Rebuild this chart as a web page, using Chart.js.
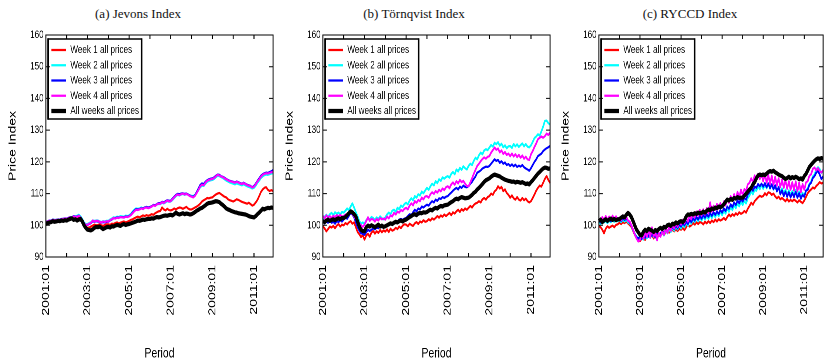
<!DOCTYPE html>
<html>
<head>
<meta charset="utf-8">
<script src="https://cdn.jsdelivr.net/npm/chart.js@4.4.1/dist/chart.umd.min.js"></script>
<style>
html,body{margin:0;padding:0;background:#fff;}
body{width:824px;height:362px;overflow:hidden;position:relative;}
.ttl{position:absolute;top:6px;width:220px;text-align:center;font-family:'Liberation Serif','Times New Roman',serif;font-size:13px;line-height:15px;color:#111;}
.panel{position:absolute;top:0;transform:scaleX(0.74);transform-origin:0 0;}
</style>
</head>
<body>
<div class="ttl" id="t0" style="left:28px"></div>
<div class="ttl" id="t1" style="left:304px"></div>
<div class="ttl" id="t2" style="left:580px"></div>
<div class="panel" style="left:0px"><canvas id="c0"></canvas></div>
<div class="panel" style="left:277px"><canvas id="c1"></canvas></div>
<div class="panel" style="left:553px"><canvas id="c2"></canvas></div>
<script>
// ---------- DATA ----------
const panelTitles = ['(a) Jevons Index', '(b) Törnqvist Index', '(c) RYCCD Index'];
const seriesNames = ['Week 1 all prices', 'Week 2 all prices', 'Week 3 all prices', 'Week 4 all prices', 'All weeks all prices'];
const years = [2001, 2002, 2003, 2004, 2005, 2006, 2007, 2008, 2009, 2010, 2011];
const monthCodes = ['01','02','03','04','05','06','07','08','09','10','11','12'];
const periods = [];
years.forEach(y => monthCodes.forEach(m => periods.push(y + ':' + m)));
const yTickValues = [90, 100, 110, 120, 130, 140, 150, 160];

// (a) Jevons
const jevW1 = [
100.2,100.4,100.7,100.9,101.2,101.0,101.3,101.5,101.4,101.7,101.6,101.8,
101.8,102.0,102.3,102.1,102.4,102.3,102.3,102.6,102.2,101.5,100.4,99.6,
99.2,99.3,99.6,99.9,100.2,100.0,100.1,100.3,100.0,99.8,100.1,100.3,
100.3,100.1,100.5,100.4,100.7,100.9,100.6,100.8,101.0,101.2,100.9,101.1,
101.4,101.7,101.9,102.2,102.5,102.7,102.5,102.8,103.1,102.9,103.2,103.0,
103.2,103.5,103.3,103.8,104.1,104.4,104.5,105.6,105.0,104.7,105.2,104.8,
104.7,104.9,105.3,105.0,105.4,105.6,105.5,105.2,105.5,105.8,105.3,105.0,
105.0,105.3,105.6,105.9,106.3,106.8,107.5,107.9,108.2,108.6,108.5,108.7,
108.8,109.3,109.7,110.0,110.2,109.8,109.4,109.0,108.8,108.2,107.9,107.7,
107.5,107.8,108.2,108.0,107.7,107.4,107.2,107.0,106.8,107.1,106.7,106.2,
106.5,107.2,108.0,109.2,110.5,111.3,111.8,112.0,111.2,110.8,111.1,110.8];
const jevW2 = [
101.0,101.3,101.4,101.6,101.7,101.7,101.6,101.9,101.8,101.9,102.1,102.1,
102.1,102.3,102.6,102.5,102.9,102.8,103.0,103.3,102.8,101.9,100.9,100.3,
100.4,100.7,101.0,101.5,101.4,101.5,101.5,101.2,101.0,101.3,101.2,101.4,
101.4,101.8,102.1,102.5,102.4,102.7,102.6,102.9,102.8,102.7,103.0,102.9,
103.1,103.6,104.3,104.9,105.3,105.2,105.3,105.6,105.3,105.7,105.7,105.5,
105.7,105.9,106.4,106.2,106.6,106.7,106.7,107.1,106.9,107.2,107.6,107.4,
107.5,108.0,108.6,109.2,109.6,109.4,109.7,109.9,109.6,109.8,109.7,109.4,
109.3,109.2,109.6,110.3,111.1,112.0,112.5,112.4,113.1,113.7,114.0,114.2,
114.3,114.6,115.1,115.6,115.5,115.2,114.9,114.5,114.1,113.8,113.5,113.3,
113.1,112.9,113.2,113.0,112.8,112.6,112.9,112.6,112.3,112.1,111.9,111.6,
111.8,112.5,113.4,114.1,114.9,115.4,115.8,116.0,115.9,116.1,116.3,116.4];
const jevW3 = [
101.1,101.2,101.5,101.4,101.8,101.6,101.7,101.8,101.8,102.0,102.0,102.2,
102.1,102.3,102.6,102.4,102.9,102.7,102.8,103.0,102.5,101.7,100.7,100.0,
100.1,100.4,100.7,101.3,101.1,101.3,101.2,101.0,100.8,101.0,100.9,101.1,
101.1,101.5,101.8,102.2,102.2,102.5,102.4,102.6,102.6,102.5,102.8,102.7,
102.9,103.3,104.0,104.6,105.1,105.0,105.1,105.4,105.3,105.6,105.8,105.6,
105.8,106.0,106.4,106.3,106.7,107.0,107.0,107.4,107.2,107.6,107.9,107.7,
107.8,108.4,109.0,109.6,109.9,109.8,110.0,110.1,109.9,110.0,109.7,109.4,
109.1,109.0,109.5,110.5,111.6,112.7,113.2,113.0,113.7,114.2,114.5,114.7,
114.8,115.1,115.6,116.0,115.9,115.5,115.3,115.0,114.6,114.3,114.0,113.9,
113.7,113.5,113.8,113.6,113.3,113.1,113.4,113.1,112.8,112.6,112.4,112.0,
112.4,113.1,114.0,114.8,115.6,116.1,116.4,116.6,116.5,116.8,117.0,117.4];
const jevW4 = [
101.0,101.2,101.4,101.5,101.7,101.6,101.6,101.8,101.7,101.9,102.0,102.1,
102.0,102.3,102.5,102.4,102.8,102.6,102.7,103.0,102.4,101.6,100.6,100.1,
100.2,100.5,100.8,101.5,101.2,101.4,101.4,101.1,100.9,101.2,101.0,101.3,
101.2,101.6,101.9,102.3,102.1,102.4,102.3,102.6,102.5,102.4,102.7,102.6,
102.8,103.2,103.8,104.4,104.9,104.8,105.0,105.3,105.1,105.5,105.6,105.4,
105.6,105.9,106.3,106.1,106.6,106.8,106.8,107.3,107.0,107.4,107.8,107.5,
107.6,108.2,108.8,109.4,109.7,109.5,109.8,110.0,109.7,109.9,109.6,109.2,
109.0,108.8,109.3,110.2,111.2,112.3,112.8,112.6,113.4,114.0,114.3,114.5,
114.6,114.9,115.4,115.9,115.7,115.4,115.2,114.8,114.5,114.2,113.9,113.8,
113.6,113.4,113.7,113.5,113.2,113.0,113.3,113.0,112.7,112.5,112.3,111.9,
112.2,112.9,113.8,114.5,115.3,115.9,116.2,116.4,116.3,116.5,116.7,116.8];
const jevAll = [
100.5,100.7,100.9,101.0,101.3,101.1,101.2,101.4,101.3,101.5,101.4,101.6,
101.5,101.8,102.0,102.2,101.7,101.9,101.5,101.8,102.0,101.2,100.0,99.2,
98.6,98.5,98.4,98.7,99.2,99.5,99.4,99.6,99.2,98.8,99.1,99.4,
99.5,99.3,99.7,99.6,99.9,100.1,100.0,99.8,100.2,100.4,100.1,100.3,
100.4,100.6,100.8,101.0,101.2,101.5,101.4,101.6,101.8,101.7,101.9,102.0,
102.0,102.2,102.1,102.4,102.6,102.5,102.6,102.8,103.0,103.1,103.0,103.2,
103.3,103.1,103.5,104.0,103.6,103.4,103.6,103.8,103.5,103.7,103.6,103.4,
103.5,103.8,104.2,104.6,104.9,105.3,105.5,105.9,106.3,106.8,107.0,107.1,
107.2,107.4,107.6,107.5,107.3,106.8,106.4,105.9,105.3,105.0,104.8,104.5,
104.3,104.1,104.0,103.8,103.7,103.6,103.5,103.4,103.2,102.9,102.7,102.6,
102.5,102.9,103.5,104.0,104.6,105.2,105.0,105.3,105.5,105.4,105.6,105.5];

// (b) Törnqvist
const torW1 = [
99.7,99.0,98.1,98.8,99.6,99.3,99.8,99.1,99.9,100.4,99.6,100.2,
100.0,100.7,100.3,100.9,101.3,100.5,100.9,99.4,97.9,97.2,96.3,96.9,
95.5,96.8,97.3,96.4,97.7,98.2,97.4,98.1,97.6,98.5,97.8,98.4,
98.0,98.7,97.9,98.9,98.3,98.6,99.2,98.8,99.6,99.1,99.9,100.3,
100.2,99.7,100.5,100.1,99.8,100.6,101.0,100.4,101.2,100.9,101.6,101.1,
101.3,101.9,101.5,102.2,101.8,102.3,102.9,102.4,103.1,102.7,103.4,102.9,
103.4,103.9,103.2,104.1,103.7,104.4,104.9,104.2,105.1,104.6,105.3,104.9,
105.5,106.1,105.6,106.4,106.9,107.1,107.6,107.2,108.2,108.6,108.1,108.9,
109.2,110.0,109.6,110.7,111.2,112.3,111.6,112.1,110.8,111.3,110.2,109.6,
108.7,109.4,108.5,108.1,108.9,108.1,107.8,108.6,107.9,108.4,107.6,107.2,
107.6,108.6,109.7,110.9,111.8,112.5,112.2,113.4,114.6,115.5,114.3,113.4];
const torW2 = [
101.8,102.7,103.3,102.6,103.5,103.9,103.2,104.1,103.6,104.0,103.4,104.2,
104.0,104.6,105.3,104.8,105.9,106.9,105.6,104.1,102.8,101.3,100.5,100.9,
100.5,101.6,102.3,101.8,102.6,102.3,101.7,102.5,102.0,102.8,102.2,101.9,
102.5,103.4,104.0,103.5,104.6,104.9,104.3,105.5,105.1,106.2,105.8,106.7,
107.1,106.6,107.8,108.5,107.9,109.2,108.7,109.8,109.4,110.6,110.1,111.0,
111.8,111.2,112.3,113.1,112.6,113.9,113.3,114.5,114.0,115.1,114.7,115.2,
115.5,115.0,116.2,116.8,116.1,117.6,117.0,118.1,117.5,118.6,118.0,117.6,
118.7,119.4,119.0,120.3,121.3,120.8,122.1,122.9,122.4,123.6,124.0,123.7,
124.5,125.3,124.8,126.0,125.6,126.2,125.1,125.7,124.6,125.2,124.3,124.9,
125.0,124.4,125.6,124.9,125.5,124.7,125.3,125.8,124.9,125.6,124.8,124.6,
125.2,126.3,127.5,128.0,128.7,128.3,129.6,131.1,132.9,133.0,132.2,131.8];
const torW3 = [
101.3,100.6,101.2,100.8,101.5,100.8,101.1,100.5,101.3,101.0,101.6,101.2,
101.8,102.4,102.1,103.0,103.9,103.4,102.5,101.0,99.4,98.3,97.5,97.3,
97.0,97.8,98.6,98.2,98.6,99.0,98.7,99.3,99.1,99.7,99.4,99.5,
99.7,100.3,100.0,100.8,100.5,101.0,101.4,101.1,101.8,102.0,101.7,102.1,
102.3,102.9,103.5,103.2,104.1,104.9,104.4,105.3,105.0,105.9,105.6,106.1,
106.5,106.2,107.0,107.6,107.2,108.1,107.7,108.5,108.3,108.9,108.6,109.0,
109.2,109.8,110.3,110.9,111.4,111.8,111.3,112.2,111.8,112.5,112.1,112.0,
112.3,113.1,113.7,114.6,115.4,116.6,116.9,117.3,117.9,118.2,118.5,118.4,
118.7,119.4,120.1,120.8,120.3,120.6,119.7,120.2,119.4,119.8,119.0,119.3,
118.7,119.2,118.6,119.1,118.4,118.8,118.5,119.0,118.3,117.9,117.6,117.2,
118.0,119.0,120.0,120.8,121.8,122.2,122.6,123.4,123.9,124.3,124.6,125.0];
const torW4 = [
102.9,102.2,103.1,102.4,102.9,102.3,103.0,102.6,103.2,102.8,103.3,102.7,
102.9,103.4,103.0,103.8,104.2,103.6,102.8,101.9,101.4,100.6,100.0,99.5,
100.2,101.3,102.5,101.4,102.0,101.8,101.2,102.0,101.5,102.3,101.9,102.1,
101.8,102.7,102.2,103.1,102.8,103.9,103.4,104.3,104.0,104.8,104.5,105.2,
105.5,105.0,106.2,106.9,106.3,107.6,107.1,108.0,107.6,108.7,108.2,109.1,
109.2,108.7,109.8,110.4,109.9,110.8,110.3,111.2,110.7,111.6,111.1,112.0,
112.3,111.7,112.9,113.5,112.8,113.9,113.2,114.3,113.6,114.0,113.1,112.4,
112.3,113.5,114.8,116.2,117.5,118.7,119.4,120.2,120.9,121.4,121.0,121.6,
121.8,122.9,123.7,124.5,123.8,124.2,123.0,123.6,122.5,123.1,122.2,122.6,
121.8,122.6,121.7,122.4,121.5,122.2,121.3,122.0,121.0,121.6,120.8,120.6,
122.4,123.4,124.7,125.8,127.1,127.6,128.0,127.6,128.1,128.9,128.5,129.2];
const torAll = [
101.3,101.0,101.5,101.8,101.4,101.7,101.9,101.6,102.0,102.2,101.9,102.3,
102.3,102.6,103.2,103.8,104.4,104.1,103.5,102.8,101.2,99.6,98.6,98.2,
98.1,99.4,99.9,99.6,100.0,99.7,99.4,99.8,100.2,99.6,99.9,99.5,
99.7,100.0,100.3,100.6,100.4,100.8,101.1,100.9,101.3,101.5,101.2,101.6,
101.8,102.2,102.6,102.9,103.3,103.5,103.2,103.7,103.9,103.8,104.1,104.0,
104.2,104.6,104.9,104.7,105.2,105.5,105.3,105.8,106.1,105.9,106.3,106.4,
106.5,106.9,107.3,107.6,108.1,108.4,108.2,108.6,108.9,108.7,108.5,108.6,
108.7,109.1,109.6,110.2,110.6,111.3,111.8,112.4,113.0,113.7,114.2,114.5,
114.8,115.3,115.7,116.0,115.8,115.6,115.4,115.0,114.7,114.4,114.2,114.0,
113.9,113.7,113.8,113.5,113.7,113.6,113.4,113.6,113.3,113.0,113.2,112.9,
113.6,114.2,114.9,115.6,116.3,116.8,117.4,117.9,118.2,118.1,117.8,117.9];

// (c) RYCCD
const ryW1 = [
99.7,99.4,98.6,97.5,98.9,99.7,99.2,99.6,99.9,99.4,100.1,100.3,
100.8,100.4,101.0,100.7,101.2,100.6,100.1,99.5,98.2,97.0,96.1,95.6,
95.0,95.8,96.6,95.4,96.5,97.1,96.2,96.8,95.9,96.7,97.2,96.6,
97.0,97.6,96.9,97.8,98.3,97.7,98.0,98.6,98.1,98.7,98.2,98.9,
98.6,99.1,98.5,99.4,100.2,99.6,100.0,100.7,100.2,100.9,100.4,101.0,
100.8,100.3,101.1,100.6,101.3,100.7,101.5,101.0,101.8,101.2,101.9,101.5,
101.8,102.3,101.7,102.6,103.4,102.8,103.5,103.0,103.8,103.3,104.1,103.6,
103.9,104.5,104.0,105.2,106.1,107.1,106.5,107.6,108.2,108.8,109.3,109.0,
109.2,110.1,109.5,110.4,110.2,109.6,110.0,109.1,108.5,109.0,108.2,108.6,
108.1,107.6,108.3,107.5,108.0,107.6,108.1,107.7,107.2,107.9,107.4,107.0,
107.8,108.9,110.1,110.8,111.3,111.9,111.6,112.4,112.9,113.6,113.2,113.4];
const ryW2 = [
101.2,100.4,101.6,100.9,101.3,100.7,101.4,101.0,101.6,101.1,101.8,101.3,
101.6,101.0,101.8,101.2,101.7,100.9,100.6,99.8,98.4,97.3,96.4,96.0,
95.6,96.9,95.5,96.8,95.9,97.2,96.0,97.4,96.3,97.6,96.4,97.0,
96.7,97.9,96.8,98.4,97.5,98.8,97.9,99.2,98.3,99.6,98.7,99.9,
99.0,100.3,99.4,100.8,99.9,101.4,100.5,101.9,101.0,102.3,101.3,102.5,
101.5,102.7,101.8,103.0,102.0,103.3,102.3,103.6,102.6,103.9,102.9,104.2,
103.2,104.6,103.7,105.2,104.3,105.8,104.8,106.3,105.4,106.9,106.0,107.5,
106.4,107.6,106.9,108.6,109.4,110.6,109.8,111.2,110.9,112.3,111.4,112.6,
111.5,112.8,111.7,113.0,111.6,112.7,111.3,112.4,110.8,112.1,110.5,111.6,
110.0,111.2,109.8,111.0,109.5,110.8,109.6,111.1,109.3,110.6,109.0,110.2,
109.4,111.0,111.6,113.1,113.8,115.4,116.0,117.6,118.3,117.7,116.5,117.2];
const ryW3 = [
101.5,100.9,101.9,101.2,101.7,101.0,101.8,101.3,101.9,101.5,102.0,101.6,
101.9,101.4,102.2,101.7,102.1,101.5,100.9,99.9,98.5,97.1,96.2,95.9,
96.3,95.7,97.0,96.1,97.3,96.4,97.6,96.7,98.0,96.2,98.1,97.0,
97.4,98.3,97.5,98.7,97.9,99.1,98.4,99.5,98.8,99.9,99.1,100.2,
99.6,100.7,100.0,101.1,100.4,101.7,101.0,102.2,101.5,102.6,101.8,102.9,
102.1,103.2,102.4,103.5,102.7,103.8,103.0,104.1,103.3,104.4,103.6,104.8,
104.0,105.3,104.5,105.9,105.2,106.6,105.7,107.2,106.4,107.8,107.0,108.3,
107.5,108.6,108.1,109.7,110.4,111.5,110.9,112.2,111.8,113.0,112.3,113.1,
112.2,113.3,112.0,113.2,111.7,112.9,111.4,112.6,110.7,112.0,109.8,111.0,
109.2,110.6,109.0,110.4,108.8,110.2,108.9,110.5,108.7,110.1,108.4,109.6,
109.0,110.9,111.2,112.8,113.4,114.9,115.5,116.6,117.2,116.0,114.6,115.4];
const ryW4 = [
102.0,101.2,102.6,101.5,102.9,101.8,102.7,101.9,103.0,102.1,102.8,101.9,
102.4,101.6,103.1,102.0,102.7,101.4,101.2,100.0,98.6,97.0,95.8,94.9,
95.4,97.2,95.8,97.9,96.3,98.6,96.1,99.3,96.5,97.8,95.3,97.6,
96.4,98.2,97.0,98.9,97.6,99.5,98.3,100.2,99.0,100.8,99.5,101.2,
100.2,101.7,100.6,102.4,101.2,103.1,101.9,103.8,102.5,104.3,103.0,104.8,
103.1,105.0,103.4,105.4,103.8,107.2,104.3,106.1,104.8,106.7,105.3,107.0,
105.6,107.5,106.3,108.3,107.1,109.2,107.7,109.8,108.2,110.5,108.8,111.2,
109.6,111.4,110.8,112.9,113.4,114.8,113.6,115.7,114.3,116.2,114.6,116.0,
113.9,116.3,113.4,115.9,113.0,115.6,112.8,115.3,112.5,114.8,112.0,114.4,
111.8,114.2,111.5,113.9,111.2,113.6,111.0,113.8,110.7,113.4,110.4,113.0,
111.2,113.5,113.9,115.6,116.1,117.8,118.2,117.3,118.0,117.1,116.6,117.4];
const ryAll = [
101.3,101.8,101.0,101.5,101.9,101.4,101.8,102.1,101.7,102.0,101.6,101.9,
101.9,102.4,102.8,102.5,103.3,103.9,103.4,102.6,101.3,99.9,98.6,97.8,
97.0,96.8,97.9,98.6,98.2,98.9,98.6,98.3,97.9,98.5,98.2,98.8,
99.2,98.8,99.5,99.3,100.0,100.2,99.8,100.5,100.3,100.9,100.6,101.1,
101.3,101.0,101.6,102.8,103.4,103.3,103.6,103.4,103.8,103.6,104.0,103.8,
103.9,104.3,104.0,104.6,105.0,104.7,105.3,105.1,105.6,105.4,105.9,105.7,
106.0,106.6,107.4,108.1,107.8,108.3,108.0,108.6,108.4,108.9,108.6,108.7,
108.7,109.3,110.0,110.6,111.3,111.8,112.9,113.6,114.8,115.7,116.0,115.8,
116.0,115.8,116.3,116.8,117.1,116.9,117.2,116.7,116.4,116.0,115.7,115.5,
115.0,114.6,114.9,115.3,114.8,115.2,114.9,115.3,115.0,114.5,114.8,114.4,
115.5,116.2,117.3,118.4,119.1,119.7,120.3,120.8,121.1,120.9,121.2,121.0];

const panelSeries = [
  [jevW1, jevW2, jevW3, jevW4, jevAll],
  [torW1, torW2, torW3, torW4, torAll],
  [ryW1, ryW2, ryW3, ryW4, ryAll]
];

// ---------- STYLE ----------
const SX = 0.74;                       // horizontal squeeze of the figure
const lineColors = ['#ff0000', '#00ffff', '#0000ff', '#ff00ff', '#000000'];
const lineWidths = [2.2, 2.2, 2.2, 2.2, 4.2];
const drawOrder = [4, 3, 2, 1, 0];
const padRight = [11, 11, 15];
const FONT = "'Liberation Sans', Arial, Helvetica, sans-serif";
const LEG_PAD = 4.25;

const matlabBox = {
  id: 'matlabBox',
  beforeDraw(chart) {
    const a = chart.chartArea, lg = chart.legend;
    lg.left = a.left + 7.5 - LEG_PAD;
    lg.top = a.top + 5.25;
  },
  afterDraw(chart) {
    const ctx = chart.ctx, a = chart.chartArea;
    const xs = chart.scales.x, ys = chart.scales.y;
    const TLx = 4, TLy = 4 / SX;
    ctx.save();
    ctx.strokeStyle = '#000';
    ctx.lineCap = 'butt';
    ctx.lineWidth = 1;
    ctx.beginPath();
    ctx.moveTo(a.left, a.top); ctx.lineTo(a.right, a.top);
    ctx.moveTo(a.left, a.bottom); ctx.lineTo(a.right, a.bottom);
    ys.ticks.forEach(t => {
      const y = ys.getPixelForValue(t.value);
      ctx.moveTo(a.left, y); ctx.lineTo(a.left + TLy, y);
      ctx.moveTo(a.right, y); ctx.lineTo(a.right - TLy, y);
    });
    ctx.stroke();
    ctx.lineWidth = 1 / SX;
    ctx.beginPath();
    ctx.moveTo(a.left, a.top - 0.5); ctx.lineTo(a.left, a.bottom + 0.5);
    ctx.moveTo(a.right, a.top - 0.5); ctx.lineTo(a.right, a.bottom + 0.5);
    for (let i = 0; i < periods.length; i += 12) {
      const x = xs.getPixelForValue(i);
      ctx.moveTo(x, a.bottom); ctx.lineTo(x, a.bottom - TLx);
      ctx.moveTo(x, a.top); ctx.lineTo(x, a.top + TLx);
    }
    ctx.stroke();
    const lg = chart.legend;
    let maxW = 0;
    (lg.legendHitBoxes || []).forEach(h => { maxW = Math.max(maxW, h.width); });
    const bl = a.left + 3.1, bt = a.top + 4;
    const br = lg.left + LEG_PAD + maxW + 3.5, bb = a.top + 84;
    ctx.lineWidth = 1.6;
    ctx.beginPath();
    ctx.moveTo(bl, bt); ctx.lineTo(br, bt);
    ctx.moveTo(bl, bb); ctx.lineTo(br, bb);
    ctx.stroke();
    ctx.lineWidth = 1.6 / SX;
    ctx.beginPath();
    ctx.moveTo(bl, bt - 0.8); ctx.lineTo(bl, bb + 0.8);
    ctx.moveTo(br, bt - 0.8); ctx.lineTo(br, bb + 0.8);
    ctx.stroke();
    ctx.restore();
  }
};

Chart.defaults.color = '#000';
Chart.defaults.font.family = FONT;

panelTitles.forEach((t, k) => { document.getElementById('t' + k).textContent = t; });

panelSeries.forEach((series, k) => {
  const canvas = document.getElementById('c' + k);
  canvas.width = 380; canvas.height = 362;
  new Chart(canvas, {
    type: 'line',
    data: {
      labels: periods,
      datasets: series.map((vals, i) => ({
        label: seriesNames[i],
        data: vals,
        borderColor: lineColors[i],
        backgroundColor: lineColors[i],
        borderWidth: lineWidths[i],
        pointRadius: 0,
        pointHoverRadius: 0,
        tension: 0,
        borderJoinStyle: 'round',
        fill: false,
        order: drawOrder[i]
      }))
    },
    options: {
      responsive: false,
      animation: false,
      devicePixelRatio: 2,
      events: [],
      layout: { padding: { left: 0, top: 35, right: padRight[k], bottom: 0 } },
      plugins: {
        title: { display: false },
        tooltip: { enabled: false },
        legend: {
          display: true,
          position: 'chartArea',
          align: 'start',
          labels: {
            usePointStyle: true,
            pointStyle: 'line',
            pointStyleWidth: 20,
            boxHeight: 11,
            padding: LEG_PAD,
            textAlign: 'left',
            color: '#111',
            font: { size: 11, family: FONT },
            sort: (a, b) => a.datasetIndex - b.datasetIndex
          }
        }
      },
      scales: {
        x: {
          type: 'category',
          offset: false,
          grid: { display: false, drawTicks: false },
          border: { display: false },
          ticks: {
            autoSkip: false,
            minRotation: 90,
            maxRotation: 90,
            padding: 8,
            font: { size: 14, family: FONT },
            color: '#000',
            callback: function (v, i) { return i % 24 === 0 ? periods[i] : null; }
          },
          title: { display: true, text: 'Period', font: { size: 14, family: FONT }, color: '#000', padding: { top: 0, bottom: 0 } },
          afterFit: s => { s.height = 105; s.paddingLeft = 0; s.paddingRight = 0; }
        },
        y: {
          min: yTickValues[0],
          max: yTickValues[yTickValues.length - 1],
          grid: { display: false, drawTicks: false },
          border: { display: false },
          ticks: { stepSize: yTickValues[1] - yTickValues[0], padding: 3, font: { size: 11, family: FONT }, color: '#000' },
          afterBuildTicks: s => { s.ticks = yTickValues.map(v => ({ value: v })); },
          title: { display: true, text: 'Price Index', font: { size: 14, family: FONT }, color: '#000', padding: { top: 8.5, bottom: 0 } },
          afterFit: s => { s.width = 62; s.paddingTop = 0; s.paddingBottom = 0; }
        }
      }
    },
    plugins: [matlabBox]
  });
});
</script>
</body>
</html>
